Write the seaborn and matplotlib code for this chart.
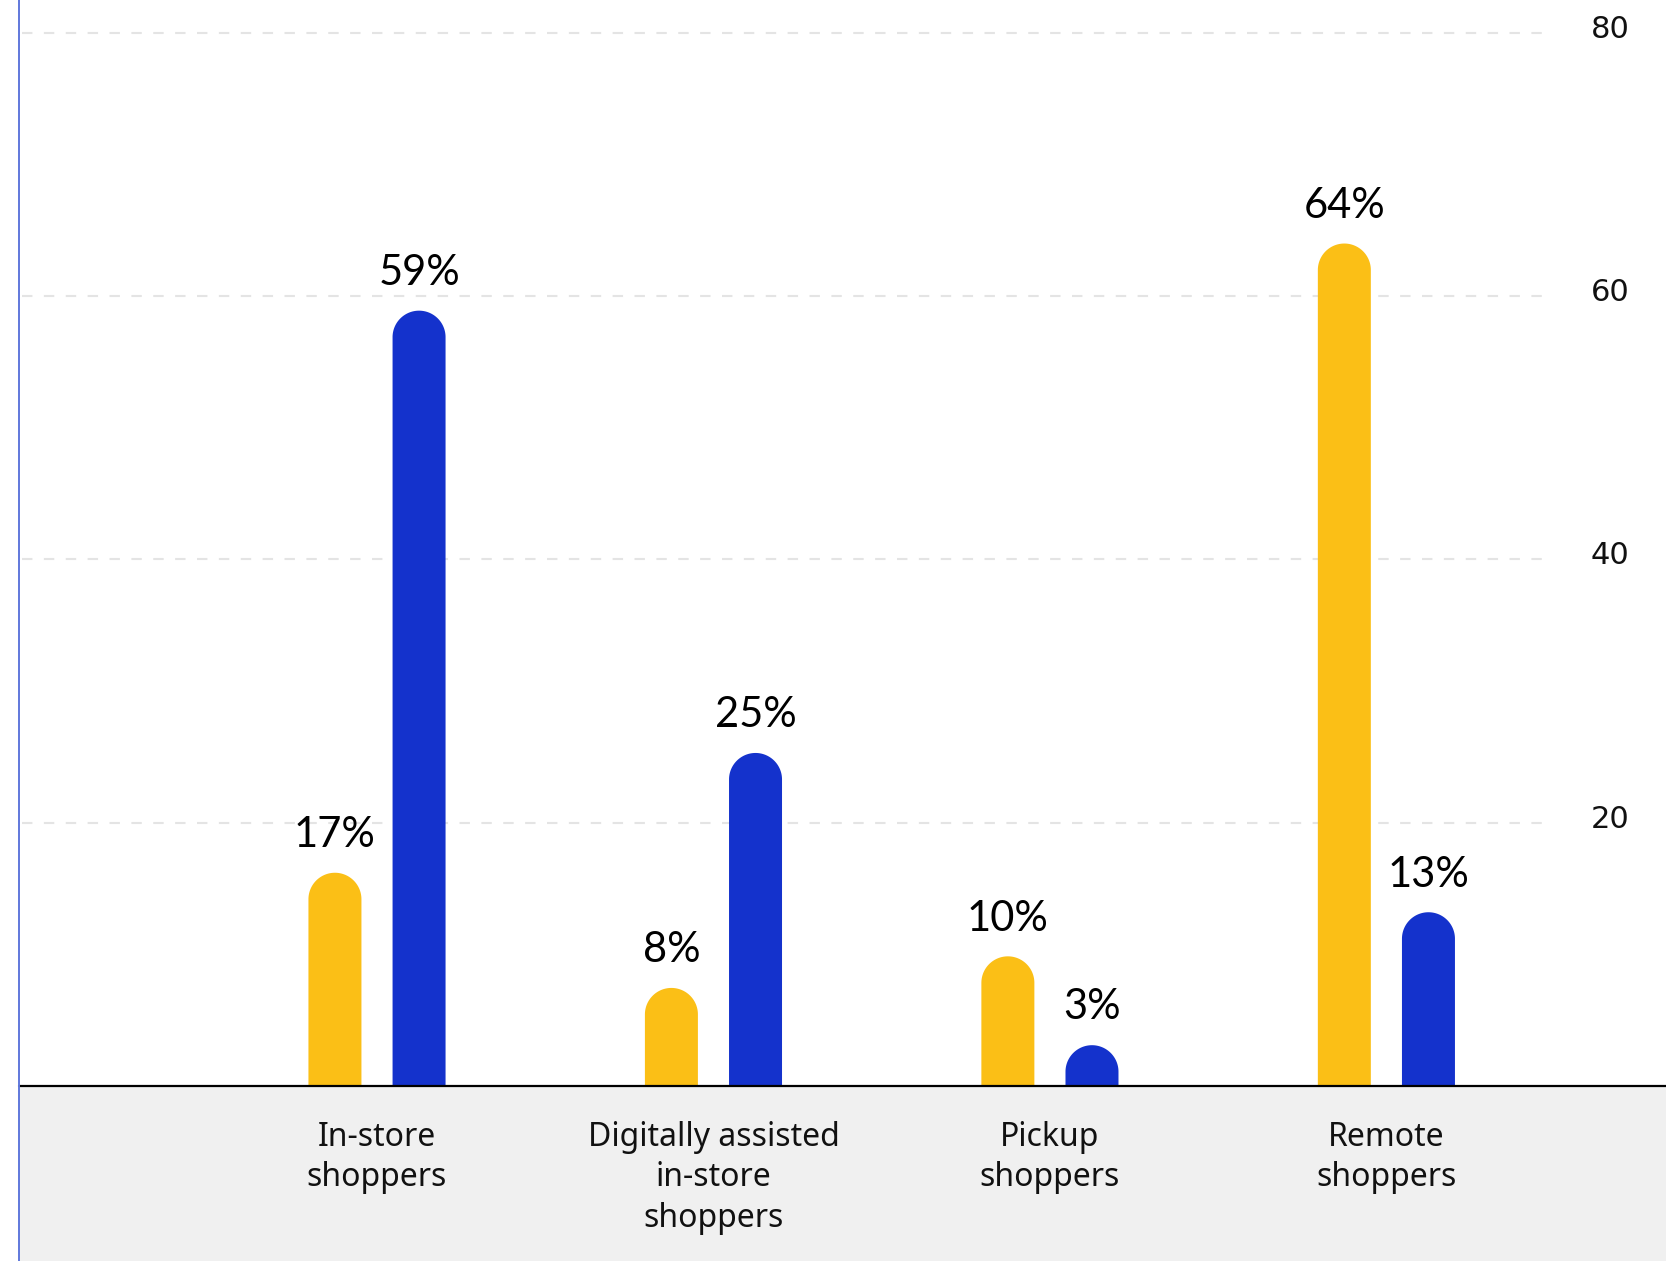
import matplotlib
matplotlib.use("Agg")
import matplotlib.pyplot as plt
from matplotlib.patches import Polygon, Rectangle
from matplotlib.lines import Line2D
import numpy as np
import pandas as pd
import seaborn as sns

# data (bar heights as drawn, labels as printed)
categories = ["In-store\nshoppers", "Digitally assisted\nin-store\nshoppers",
              "Pickup\nshoppers", "Remote\nshoppers"]
series_names = ["Series 1", "Series 2"]
series_1 = [16.2, 7.45, 9.85, 64.0]   # yellow
series_2 = [58.9, 25.3, 3.1, 13.2]    # blue
labels_1 = ["17%", "8%", "10%", "64%"]
labels_2 = ["59%", "25%", "3%", "13%"]
y_ticks = [20, 40, 60, 80]

yellow = "#FBBF16"
blue = "#1432CC"

df = pd.DataFrame({
    "category": categories * 2,
    "series": [series_names[0]] * 4 + [series_names[1]] * 4,
    "value": series_1 + series_2,
})

W, H = 1666, 1261
sns.set_style("white")
plt.rcParams["font.family"] = ["DejaVu Sans"]

fig = plt.figure(figsize=(W / 100, H / 100), dpi=100)
ax = fig.add_axes([19 / W, 175 / H, (W - 19) / W, 1086 / H])

sns.barplot(data=df, x="category", y="value", hue="series", order=categories,
            hue_order=series_names, palette=[yellow, blue], width=0.5, gap=0.37,
            legend=False, ax=ax, zorder=2, linewidth=0, saturation=1)

ax.set_xlim(-1.064, 3.831)
ax.set_ylim(0, 82.5)

# rounded tops: work out radius in data units from pixel scale
p0 = ax.transData.transform((0, 0))
p1 = ax.transData.transform((1, 1))
px_x = p1[0] - p0[0]
px_y = p1[1] - p0[1]
theta = np.linspace(np.pi, 0, 80)

for container, labels in zip(ax.containers, [labels_1, labels_2]):
    for bar, text in zip(container, labels):
        top = bar.get_height()
        w = bar.get_width()
        x0 = bar.get_x()
        xc = x0 + w / 2
        r = (w * px_x / 2) / px_y
        # swap the square bar for a pill shape of the same size
        bar.set_visible(False)
        arc = np.column_stack([xc + (w / 2) * np.cos(theta),
                               top - r + r * np.sin(theta)])
        verts = np.vstack([[x0, 0], arc, [x0 + w, 0]])
        ax.add_patch(Polygon(verts, closed=True, color=bar.get_facecolor(),
                             lw=0, zorder=2))
        ax.annotate(text, xy=(xc, top), xytext=(0, 18.5),
                    textcoords="offset points", ha="center", va="baseline",
                    fontsize=30, family="Lato", color="black")

# dashed gridlines that stop short of the right labels
for v in y_ticks:
    ax.axhline(v, xmin=0.002, xmax=0.930, color="#e4e4e4", lw=1.5,
               ls=(0, (5, 5.5)), zorder=0)
    ax.annotate(str(v), xy=(0.966, v), xycoords=ax.get_yaxis_transform(),
                xytext=(0, -3.6), textcoords="offset points", ha="center",
                va="baseline", fontsize=22, color="#111111")

ax.axhline(0, color="black", lw=1.6, zorder=3, clip_on=False)

ax.set_yticks([])
ax.set_xlabel("")
ax.set_ylabel("")
ax.tick_params(axis="x", length=0, pad=25)
for lab in ax.get_xticklabels():
    lab.set_fontsize(23)
    lab.set_family("Noto Sans")
    lab.set_linespacing(1.3)
    lab.set_color("#111111")
for s in ax.spines.values():
    s.set_visible(False)

# grey band under the axis and thin blue rule on the left
fig.add_artist(Rectangle((19 / W, 0), 1 - 19 / W, 174 / H, transform=fig.transFigure,
                         color="#f0f0f0", zorder=-1))
fig.add_artist(Line2D([18.5 / W, 18.5 / W], [0, 1], transform=fig.transFigure,
                      color="#6078DC", lw=1.4))

fig.savefig("out.png", dpi=100)
